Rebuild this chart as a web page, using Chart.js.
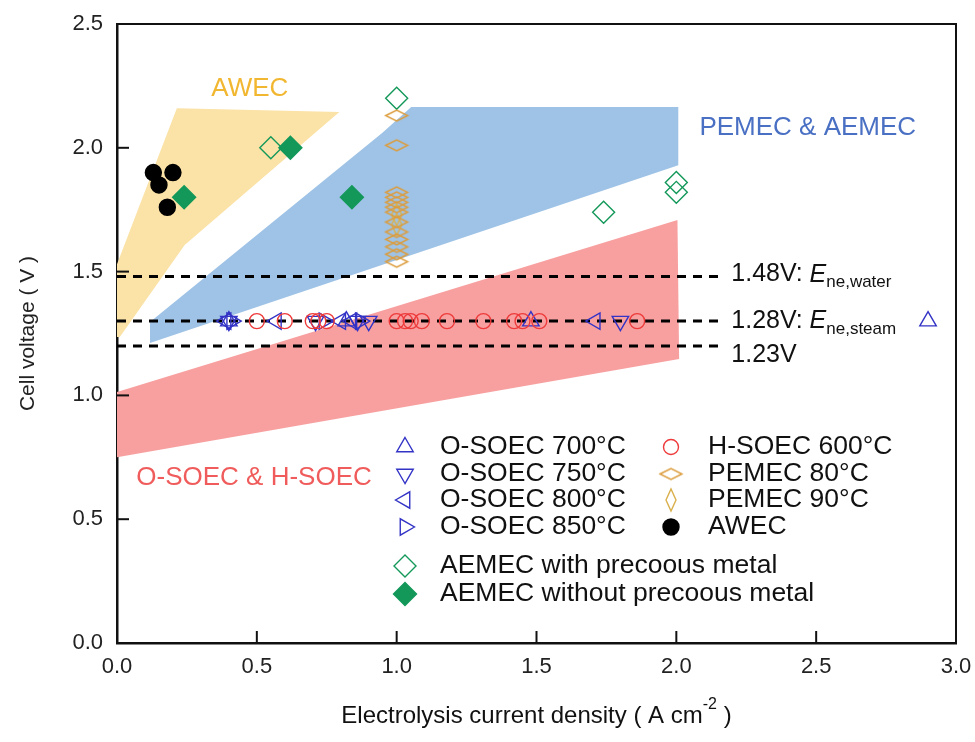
<!DOCTYPE html>
<html>
<head>
<meta charset="utf-8">
<script src="https://cdn.jsdelivr.net/npm/chart.js@4.4.1/dist/chart.umd.min.js"></script>
<style>
  html, body { margin: 0; padding: 0; background: #fff; }
  #wrap { width: 975px; height: 742px; }
</style>
</head>
<body>
<div id="wrap"><canvas id="chart" width="975" height="742"></canvas></div>
<script>
// axis ticks
const xTicks = [0, 0.5, 1.0, 1.5, 2.0, 2.5, 3.0];
const yTicks = [0, 0.5, 1.0, 1.5, 2.0, 2.5];

// SOEC points all sit on the ~1.3 V line
const soecVoltage = 1.3;
const osoec700X = [0.40, 0.82, 1.48, 2.90];
const osoec750X = [0.40, 0.71, 0.86, 0.90, 1.80];
const osoec800X = [0.39, 0.57, 0.80, 0.84, 1.71];
const osoec850X = [0.41, 0.74, 0.87];
const hsoec600X = [0.50, 0.60, 0.70, 0.72, 0.75, 1.00, 1.03, 1.05, 1.09, 1.18, 1.31, 1.42, 1.45, 1.51, 1.86];

// PEMEC points all at 1.0 A cm-2
const pemecX = 1.0;
const pemec80Y = [2.13, 2.01, 1.82, 1.80, 1.78, 1.76, 1.74, 1.70, 1.66, 1.63, 1.60, 1.57, 1.54];
const pemec90Y = [1.73, 1.69];

const awecX = [0.13, 0.20, 0.15, 0.18];
const awecY = [1.90, 1.90, 1.85, 1.76];
const aemecPmX = [0.55, 1.0, 1.74, 2.0, 2.0];
const aemecPmY = [2.0, 2.2, 1.74, 1.86, 1.82];
const aemecNoPmX = [0.24, 0.62, 0.84];
const aemecNoPmY = [1.80, 2.0, 1.80];

// shaded regions (polygon corners)
const awecRegionX = [0.214, 0.795, 0.242, 0.01, 0, 0];
const awecRegionY = [2.16, 2.145, 1.607, 1.236, 1.236, 1.53];
const pemRegionX = [0.118, 0.118, 0.948, 1.052, 2.007, 2.007];
const pemRegionY = [1.212, 1.296, 2.06, 2.165, 2.165, 1.93];
const soecRegionX = [0, 2.004, 2.01, 0];
const soecRegionY = [1.014, 1.708, 1.147, 0.75];

// reference voltage lines
const refLineY = [1.48, 1.30, 1.20];
const refLineEnd = 2.15;

const blue = '#3333c6';
const red = '#ee3a3a';
const green = '#13985a';
const orange = '#dc9c3c';
const orange90 = '#d9b04c';

function pts(xs, ys) {
  return xs.map((x, i) => ({ x: x, y: Array.isArray(ys) ? ys[i] : ys }));
}
function polygon(xs, ys) {
  const p = pts(xs, ys);
  p.push(p[0]);
  return p;
}
function diamondImg(w, h, color, lw) {
  const c = document.createElement('canvas');
  const m = Math.ceil(lw);
  c.width = w + 2 * m; c.height = h + 2 * m;
  const g = c.getContext('2d');
  g.strokeStyle = color; g.lineWidth = lw;
  g.beginPath();
  g.moveTo(m, m + h / 2); g.lineTo(m + w / 2, m); g.lineTo(m + w, m + h / 2); g.lineTo(m + w / 2, m + h);
  g.closePath(); g.stroke();
  return c;
}
const wideDiamond = diamondImg(22, 11, orange, 1.4);
const tallDiamond = diamondImg(10, 22, orange90, 1.4);

function regionSet(data, color) {
  return { type: 'line', data: data, fill: 'shape', backgroundColor: color, borderWidth: 0,
           pointRadius: 0, tension: 0, order: 20 };
}
function markerSet(data, style, color, fillColor, radius, rotation) {
  return { type: 'scatter', data: data, pointStyle: style, pointRadius: radius, pointRotation: rotation || 0,
           pointBorderColor: color, pointBackgroundColor: fillColor, pointBorderWidth: 1.4, order: 1 };
}

const datasets = [
  regionSet(polygon(soecRegionX, soecRegionY), '#f8a0a0'),
  regionSet(polygon(pemRegionX, pemRegionY), '#9fc3e6'),
  regionSet(polygon(awecRegionX, awecRegionY), '#fbe2a6'),
];
refLineY.forEach(v => {
  datasets.push({ type: 'line', data: [{ x: 0, y: v }, { x: refLineEnd, y: v }], borderColor: '#000',
                  borderWidth: 3, borderDash: [9, 7], pointRadius: 0, fill: false, order: 5 });
});
datasets.push(
  markerSet(pts(hsoec600X, soecVoltage), 'circle', red, 'rgba(0,0,0,0)', 7.5),
  markerSet(pts(osoec700X, soecVoltage), 'triangle', blue, 'rgba(0,0,0,0)', 9.5, 0),
  markerSet(pts(osoec750X, soecVoltage), 'triangle', blue, 'rgba(0,0,0,0)', 9.5, 180),
  markerSet(pts(osoec800X, soecVoltage), 'triangle', blue, 'rgba(0,0,0,0)', 9.5, -90),
  markerSet(pts(osoec850X, soecVoltage), 'triangle', blue, 'rgba(0,0,0,0)', 9.5, 90),
  markerSet(pts(pemec80Y.map(() => pemecX), pemec80Y), wideDiamond, orange, 'rgba(0,0,0,0)', 8),
  markerSet(pts(pemec90Y.map(() => pemecX), pemec90Y), tallDiamond, orange90, 'rgba(0,0,0,0)', 8),
  markerSet(pts(aemecPmX, aemecPmY), 'rectRot', green, 'rgba(0,0,0,0)', 11),
  markerSet(pts(aemecNoPmX, aemecNoPmY), 'rectRot', green, green, 11.5),
  markerSet(pts(awecX, awecY), 'circle', '#000', '#000', 8)
);

const legendItems = [
  { text: 'O-SOEC 700°C', style: 'triangle', rot: 0, color: blue, fill: null, r: 9.5, col: 0, y: 447 },
  { text: 'O-SOEC 750°C', style: 'triangle', rot: 180, color: blue, fill: null, r: 9.5, col: 0, y: 474 },
  { text: 'O-SOEC 800°C', style: 'triangle', rot: -90, color: blue, fill: null, r: 9.5, col: 0, y: 500 },
  { text: 'O-SOEC 850°C', style: 'triangle', rot: 90, color: blue, fill: null, r: 9.5, col: 0, y: 527 },
  { text: 'AEMEC with precoous metal', style: 'rectRot', rot: 0, color: green, fill: null, r: 11, col: 0, y: 566 },
  { text: 'AEMEC without precoous metal', style: 'rectRot', rot: 0, color: green, fill: green, r: 11.5, col: 0, y: 594 },
  { text: 'H-SOEC 600°C', style: 'circle', rot: 0, color: red, fill: null, r: 7.5, col: 1, y: 447 },
  { text: 'PEMEC 80°C', style: wideDiamond, rot: 0, color: orange, fill: null, r: 8, col: 1, y: 474 },
  { text: 'PEMEC 90°C', style: tallDiamond, rot: 0, color: orange90, fill: null, r: 8, col: 1, y: 500 },
  { text: 'AWEC', style: 'circle', rot: 0, color: '#000', fill: '#000', r: 8, col: 1, y: 527 },
];
const legendCols = [{ marker: 405, text: 440 }, { marker: 671, text: 708 }];

const FONT = "'Liberation Sans', Arial, sans-serif";

const decorations = {
  id: 'decorations',
  afterDraw(chart) {
    const { ctx, chartArea: a, scales: { x, y } } = chart;
    ctx.save();
    // top and right frame
    ctx.strokeStyle = '#111';
    ctx.lineWidth = 2;
    ctx.beginPath();
    ctx.moveTo(a.left, a.top); ctx.lineTo(a.right, a.top); ctx.lineTo(a.right, a.bottom);
    ctx.stroke();
    // inward ticks
    ctx.lineWidth = 2;
    xTicks.forEach(v => {
      const px = x.getPixelForValue(v);
      ctx.beginPath(); ctx.moveTo(px, a.bottom); ctx.lineTo(px, a.bottom - 12); ctx.stroke();
    });
    yTicks.forEach(v => {
      const py = y.getPixelForValue(v);
      ctx.beginPath(); ctx.moveTo(a.left, py); ctx.lineTo(a.left + 12, py); ctx.stroke();
    });

    // region labels
    ctx.textAlign = 'center';
    ctx.textBaseline = 'middle';
    ctx.font = '26px ' + FONT;
    ctx.fillStyle = '#f2b730';
    ctx.fillText('AWEC', x.getPixelForValue(0.475), y.getPixelForValue(2.24));
    ctx.fillStyle = '#4a70c4';
    ctx.fillText('PEMEC & AEMEC', x.getPixelForValue(2.47), y.getPixelForValue(2.08));
    ctx.fillStyle = '#f05c5c';
    ctx.fillText('O-SOEC & H-SOEC', x.getPixelForValue(0.49), y.getPixelForValue(0.666));

    // reference line labels
    ctx.textAlign = 'left';
    ctx.fillStyle = '#111';
    const lx = x.getPixelForValue(refLineEnd) + 13;
    function refLabel(main, sub, py) {
      ctx.font = '25px ' + FONT;
      ctx.fillText(main, lx, py);
      if (!sub) return;
      let cx = lx + ctx.measureText(main).width;
      ctx.font = 'italic 25px ' + FONT;
      ctx.fillText('E', cx, py);
      cx += ctx.measureText('E').width;
      ctx.font = '17px ' + FONT;
      ctx.fillText(sub, cx, py + 8);
    }
    refLabel('1.48V: ', 'ne,water', y.getPixelForValue(refLineY[0]) - 2);
    refLabel('1.28V: ', 'ne,steam', y.getPixelForValue(refLineY[1]));
    refLabel('1.23V', null, y.getPixelForValue(refLineY[2]) + 9);

    // legend
    legendItems.forEach(it => {
      const col = legendCols[it.col];
      ctx.strokeStyle = it.color;
      ctx.fillStyle = it.fill || 'rgba(0,0,0,0)';
      ctx.lineWidth = 1.4;
      Chart.helpers.drawPoint(ctx, { pointStyle: it.style, radius: it.r, rotation: it.rot, borderWidth: 1.4 }, col.marker, it.y);
      ctx.fillStyle = '#111';
      ctx.font = '26.5px ' + FONT;
      ctx.fillText(it.text, col.text, it.y);
    });

    // x axis title with superscript
    const t1 = 'Electrolysis current density ( A cm';
    const t2 = '-2';
    const t3 = ' )';
    ctx.font = '16px ' + FONT;
    const w2 = ctx.measureText(t2).width;
    ctx.font = '24px ' + FONT;
    const w1 = ctx.measureText(t1).width;
    const w3 = ctx.measureText(t3).width;
    let tx = (a.left + a.right) / 2 - (w1 + w2 + w3) / 2;
    const ty = 716;
    ctx.fillText(t1, tx, ty);
    tx += w1;
    ctx.font = '16px ' + FONT;
    ctx.fillText(t2, tx, ty - 11);
    tx += w2;
    ctx.font = '24px ' + FONT;
    ctx.fillText(t3, tx, ty);
    ctx.restore();
  }
};

new Chart(document.getElementById('chart'), {
  type: 'scatter',
  data: { datasets: datasets },
  options: {
    responsive: false,
    animation: false,
    layout: { padding: { top: 24, right: 19, left: 0, bottom: 0 } },
    plugins: {
      legend: { display: false },
      tooltip: { enabled: false },
      filler: { drawTime: 'beforeDatasetsDraw' }
    },
    scales: {
      x: {
        type: 'linear', min: 0, max: 3,
        afterBuildTicks: s => { s.ticks = xTicks.map(v => ({ value: v })); },
        afterFit: s => { s.height = 99; },
        grid: { display: false },
        border: { display: true, color: '#111', width: 2.5 },
        ticks: { callback: v => v.toFixed(1), color: '#222', padding: 3, maxRotation: 0,
                 font: { family: FONT, size: 22 } }
      },
      y: {
        type: 'linear', min: 0, max: 2.5,
        afterBuildTicks: s => { s.ticks = yTicks.map(v => ({ value: v })); },
        afterFit: s => { s.width = 117; },
        grid: { display: false },
        border: { display: true, color: '#111', width: 2.5 },
        ticks: { callback: v => v.toFixed(1), color: '#222', padding: 6,
                 font: { family: FONT, size: 22 } },
        title: { display: true, text: 'Cell voltage ( V )', color: '#222', padding: { top: 16 },
                 font: { family: FONT, size: 21 } }
      }
    }
  },
  plugins: [decorations]
});
</script>
</body>
</html>
